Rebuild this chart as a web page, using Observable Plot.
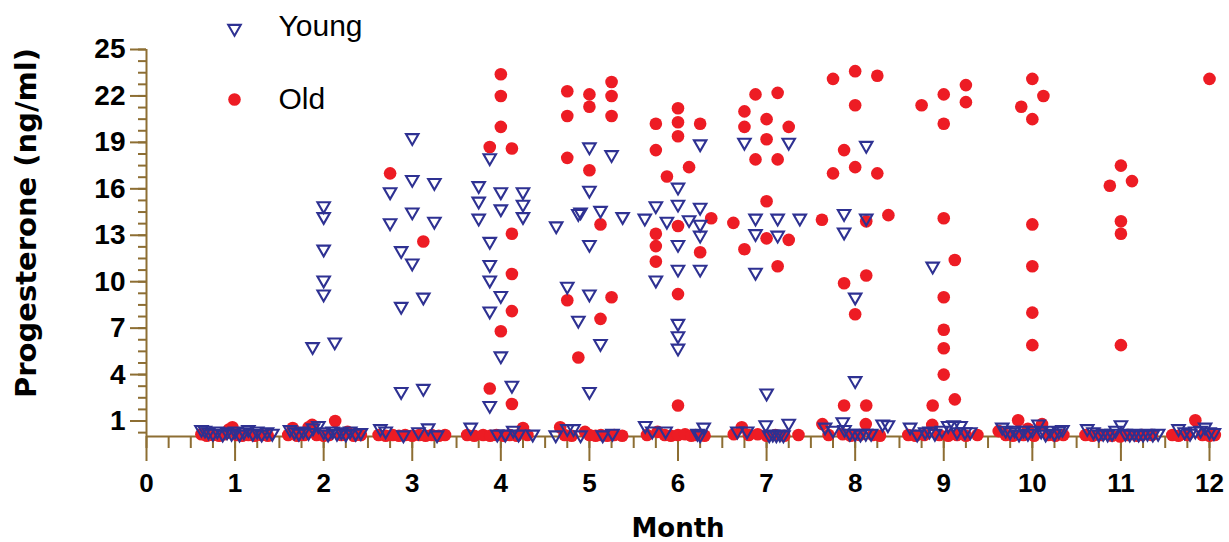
<!DOCTYPE html>
<html>
<head>
<meta charset="utf-8">
<script src="https://cdn.jsdelivr.net/npm/d3@7"></script>
<script src="https://cdn.jsdelivr.net/npm/@observablehq/plot@0.6"></script>
<style>
  html, body { margin: 0; padding: 0; background: #fff; }
</style>
</head>
<body>
<div id="chart"></div>
<script>
// ---- Data: [month, progesterone ng/ml] ----
const youngHigh = [
  [2,14.9],[2,14.2],[2,12.1],[2,10.1],[2,9.2],[1.875,5.8],[2.125,6.1],
  [3,19.3],[3,16.6],[3.25,16.4],[2.75,15.8],[3,14.5],[2.75,13.8],[3.25,13.9],[2.875,12.0],[3,11.2],[3.125,9.0],[2.875,8.4],[2.875,2.9],[3.125,3.1],
  [3.875,18.0],[3.75,16.2],[4,15.8],[4.25,15.8],[3.75,15.2],[4,14.7],[4.25,15.0],[3.75,14.1],[4.25,14.2],[3.875,12.6],[3.875,11.1],[3.875,10.1],[4,9.1],[3.875,8.1],[4,5.2],[4.125,3.3],[3.875,2.0],
  [5,18.7],[5.25,18.2],[5,15.9],[4.875,14.4],[4.9,14.5],[5.125,14.6],[4.625,13.6],[5.375,14.2],[5,12.4],[4.75,9.7],[5,9.2],[4.875,7.5],[5.125,6.0],[5,2.9],
  [5.625,14.1],[5.75,14.9],[5.75,10.1],[5.875,13.9],[6,16.1],[6,15.0],[6,12.4],[6,10.8],[6,7.3],[6,6.5],[6,5.7],[6.125,14.0],[6.25,18.9],[6.25,14.8],[6.25,13.7],[6.25,13.0],[6.25,10.8],
  [6.75,19.0],[7.25,19.0],[6.875,14.1],[7.125,14.1],[7.375,14.1],[6.875,13.1],[7.125,13.0],[6.875,10.6],[7,2.8],
  [8.125,18.8],[7.875,14.4],[8.125,14.1],[7.875,13.2],[8,9.0],[8,3.6],
  [8.875,11.0]
];
const youngLow = [
  [0.62,0.45],[0.66,0.4],[0.7,0.3],[0.75,0.2],[0.8,0.35],[0.86,0.15],[0.91,0.3],[0.96,0.2],[1.0,0.35],[1.05,0.15],[1.1,0.3],[1.15,0.45],[1.2,0.2],[1.25,0.35],[1.3,0.15],[1.36,0.3],[1.42,0.2],
  [1.62,0.45],[1.67,0.3],[1.72,0.2],[1.77,0.35],[1.83,0.25],[1.88,0.55],[1.94,0.7],[2.0,0.3],[2.05,0.15],[2.1,0.35],[2.15,0.2],[2.2,0.3],[2.25,0.15],[2.3,0.35],[2.36,0.2],[2.42,0.25],
  [2.64,0.5],[2.7,0.35],[2.9,0.1],[3.07,0.3],[3.18,0.55],[3.28,0.1],
  [3.66,0.6],[3.96,0.15],[4.05,0.15],[4.14,0.4],[4.2,0.15],[4.36,0.15],
  [4.62,0.1],[4.75,0.5],[4.82,0.5],[4.9,0.1],[5.15,0.1],[5.26,0.2],
  [5.63,0.7],[5.71,0.35],[5.86,0.35],[6.22,0.2],[6.25,0.1],[6.29,0.6],
  [6.67,0.35],[6.78,0.35],[6.99,0.75],[7.03,0.1],[7.07,0.15],[7.11,0.1],[7.15,0.15],[7.19,0.1],[7.25,0.85],
  [7.66,0.6],[7.75,0.4],[7.86,0.95],[7.88,0.45],[7.94,0.2],[8.0,0.2],[8.06,0.15],[8.12,0.2],[8.18,0.2],[8.31,0.8],[8.37,0.75],
  [8.62,0.6],[8.7,0.15],[8.79,0.3],[8.84,0.35],[8.9,0.2],[8.98,0.4],[9.05,0.7],[9.11,0.75],[9.15,0.3],[9.19,0.7],[9.24,0.3],[9.3,0.3],
  [9.66,0.6],[9.7,0.4],[9.75,0.3],[9.8,0.4],[9.85,0.15],[9.9,0.4],[9.95,0.2],[10.0,0.4],[10.07,0.8],[10.1,0.35],[10.15,0.15],[10.2,0.4],[10.25,0.2],[10.3,0.35],[10.34,0.45],
  [10.62,0.5],[10.69,0.3],[10.75,0.15],[10.8,0.2],[10.85,0.15],[10.9,0.2],[10.94,0.4],[11.0,0.75],[11.05,0.2],[11.1,0.15],[11.15,0.2],[11.2,0.15],[11.25,0.15],[11.3,0.2],[11.36,0.15],[11.42,0.2],
  [11.65,0.5],[11.72,0.3],[11.78,0.2],[11.84,0.35],[11.9,0.4],[11.95,0.6],[12.0,0.3],[12.05,0.25]
];
const oldHigh = [
  [2.75,17.0],[3.125,12.6],
  [4,23.4],[4,22.0],[4,20.0],[3.875,18.7],[4.125,18.6],[4.125,13.1],[4.125,10.5],[4.125,8.1],[4,6.8],[3.875,3.1],[4.125,2.1],
  [4.75,22.3],[5,22.1],[5.25,22.9],[5.25,22.0],[5,21.3],[4.75,20.7],[5.25,20.7],[4.75,18.0],[5,17.2],[5.125,13.7],[4.75,8.8],[5.25,9.0],[5.125,7.6],[4.875,5.1],
  [5.75,20.2],[5.75,18.5],[5.75,13.1],[5.75,12.3],[5.75,11.3],[5.875,16.8],[6,21.2],[6,20.3],[6,19.4],[6,13.6],[6,9.2],[6,2.0],[6.125,17.4],[6.25,20.2],[6.25,11.9],[6.375,14.1],
  [6.625,13.8],[6.75,21.0],[6.875,22.1],[7.125,22.2],[6.75,20.0],[7,20.5],[7.25,20.0],[7,19.2],[6.875,17.9],[7.125,17.9],[7,15.2],[7,12.8],[7.25,12.7],[6.75,12.1],[7.125,11.0],
  [7.625,14.0],[7.75,23.1],[8,23.6],[8.25,23.3],[8,21.4],[7.875,18.5],[8,17.4],[7.75,17.0],[8.25,17.0],[8.125,13.9],[8.375,14.3],[8.125,10.4],[7.875,9.9],[8,7.9],[7.875,2.0],[8.125,2.0],
  [8.75,21.4],[9,22.1],[9.25,22.7],[9.25,21.6],[9,20.2],[9,14.1],[9.125,11.4],[9,9.0],[9,6.9],[9,5.7],[9,4.0],[8.875,2.0],[9.125,2.4],
  [10,23.1],[10.125,22.0],[9.875,21.3],[10,20.5],[10,13.7],[10,11.0],[10,8.0],[10,5.9],
  [11,17.5],[10.875,16.2],[11.125,16.5],[11,13.9],[11,13.1],[11,5.9],
  [12,23.1]
];
const oldLow = [
  [0.62,0.15],[0.68,0.05],[0.75,0.1],[0.82,0.05],[0.88,0.15],[0.93,0.45],[0.97,0.6],[1.02,0.1],[1.08,0.05],[1.15,0.1],[1.22,0.05],[1.3,0.1],[1.37,0.05],
  [1.6,0.1],[1.65,0.55],[1.7,0.05],[1.78,0.1],[1.83,0.6],[1.87,0.75],[1.92,0.1],[2.0,0.05],[2.06,0.1],[2.13,1.0],[2.2,0.1],[2.27,0.3],[2.34,0.05],[2.42,0.1],
  [2.62,0.1],[2.7,0.05],[2.78,0.1],[2.85,0.05],[2.92,0.1],[3.0,0.05],[3.08,0.1],[3.15,0.05],[3.22,0.1],[3.3,0.05],[3.37,0.1],
  [3.62,0.1],[3.7,0.05],[3.8,0.1],[3.88,0.05],[3.95,0.1],[4.03,0.05],[4.1,0.1],[4.18,0.05],[4.25,0.55],[4.3,0.1],
  [4.67,0.6],[4.72,0.1],[4.8,0.05],[4.95,0.3],[5.0,0.1],[5.07,0.05],[5.13,0.1],[5.2,0.05],[5.28,0.1],[5.37,0.05],
  [5.65,0.1],[5.77,0.3],[5.85,0.1],[5.92,0.05],[6.0,0.1],[6.08,0.15],[6.15,0.05],[6.2,0.1],[6.3,0.05],
  [6.63,0.15],[6.72,0.6],[6.8,0.1],[6.9,0.15],[7.0,0.05],[7.1,0.1],[7.2,0.05],[7.36,0.1],
  [7.63,0.8],[7.7,0.1],[7.86,0.15],[7.95,0.05],[8.05,0.1],[8.12,0.8],[8.2,0.1],[8.28,0.05],
  [8.6,0.1],[8.68,0.05],[8.78,0.1],[8.87,0.75],[8.95,0.1],[9.05,0.05],[9.15,0.1],[9.25,0.05],[9.38,0.1],
  [9.62,0.35],[9.7,0.1],[9.78,0.05],[9.84,1.05],[9.9,0.1],[9.95,0.5],[10.02,0.05],[10.11,0.8],[10.18,0.1],[10.26,0.05],[10.35,0.1],
  [10.6,0.1],[10.68,0.05],[10.78,0.1],[10.9,0.05],[10.99,0.0],[11.08,0.1],[11.18,0.05],[11.24,0.1],[11.35,0.1],
  [11.58,0.1],[11.65,0.05],[11.75,0.1],[11.84,1.05],[11.92,0.1],[12.0,0.05],[12.06,0.1]
];

// ---- Axis ticks & labels ----
const xTicks = [0,1,2,3,4,5,6,7,8,9,10,11,12];
const yTicks = [1,4,7,10,13,16,19,22,25];
const xMinorTicks = d3.range(0, 12.001, 0.25);
const yMinorTicks = d3.range(0.25, 25.001, 0.75);
const seriesNames = ["Young", "Old"];
const xTitle = "Month";
const yTitle = "Progesterone (ng/ml)";

// ---- Style ----
const RED = "#ED1C24";
const BLUE = "#2E3192";
const AXIS = "#8D6E33";
const SANS = "Liberation Sans, Arial, sans-serif";
const WIDE = "DejaVu Sans, Liberation Sans, sans-serif";

const triDown = {
  draw(context, size) {
    const r = Math.sqrt(size / Math.PI);
    const R = r * 1.2;
    const h = R * Math.sqrt(3) / 2;
    context.moveTo(0, R);
    context.lineTo(h, -R / 2);
    context.lineTo(-h, -R / 2);
    context.closePath();
  }
};

const young = youngHigh.concat(youngLow);
const old = oldHigh.concat(oldLow);

const chart = Plot.plot({
  width: 1229,
  height: 542,
  marginLeft: 146,
  marginRight: 20,
  marginTop: 49,
  marginBottom: 106,
  style: { fontFamily: SANS, background: "#fff", color: "#000", overflow: "visible" },
  x: { domain: [0, 12] },
  y: { domain: [0, 25] },
  marks: [
    Plot.axisX(xMinorTicks, { tickSize: 12, tickFormat: () => "", stroke: AXIS, strokeWidth: 2, label: null }),
    Plot.axisX(xTicks, { tickSize: 25, tickPadding: 12, stroke: AXIS, strokeWidth: 2, fill: "#000",
      fontSize: 26, fontWeight: "bold", fontFamily: SANS, label: null, tickFormat: d => String(d) }),
    Plot.axisY(yMinorTicks, { tickSize: 8, tickFormat: () => "", stroke: AXIS, strokeWidth: 2, label: null }),
    Plot.axisY(yTicks, { tickSize: 16, tickPadding: 5, stroke: AXIS, strokeWidth: 2, fill: "#000",
      fontSize: 28, fontWeight: "bold", fontFamily: SANS, label: null, tickFormat: d => String(d) }),
    Plot.ruleY([0], { stroke: AXIS, strokeWidth: 2 }),
    Plot.ruleX([0], { y1: 0, y2: 25, stroke: AXIS, strokeWidth: 2 }),
    Plot.dot(old, { x: d => d[0], y: d => d[1], r: 6.3, fill: RED, stroke: "none" }),
    Plot.dot(young, { x: d => d[0], y: d => d[1], r: 6, symbol: triDown, fill: "none", stroke: BLUE, strokeWidth: 2.1 }),
    // legend
    Plot.dot([seriesNames[0]], { frameAnchor: "top-left", dx: 88, dy: -21, r: 6, symbol: triDown, fill: "none", stroke: BLUE, strokeWidth: 2.1 }),
    Plot.dot([seriesNames[1]], { frameAnchor: "top-left", dx: 88, dy: 50, r: 6.3, fill: RED }),
    Plot.text([seriesNames[0]], { frameAnchor: "top-left", text: d => d, dx: 132, dy: -23, textAnchor: "start", lineAnchor: "middle", fontSize: 30, fontFamily: SANS, fill: "#000" }),
    Plot.text([seriesNames[1]], { frameAnchor: "top-left", text: d => d, dx: 132, dy: 50, textAnchor: "start", lineAnchor: "middle", fontSize: 30, fontFamily: SANS, fill: "#000" }),
    // axis titles
    Plot.text([xTitle], { frameAnchor: "bottom", text: d => d, dy: 92, textAnchor: "middle", lineAnchor: "middle", fontSize: 26, fontWeight: "bold", fontFamily: WIDE, fill: "#000" }),
    Plot.text([yTitle], { frameAnchor: "left", text: d => d, dx: -119.5, dy: -20, rotate: -90, textAnchor: "middle", lineAnchor: "middle", fontSize: 29, fontWeight: "bold", fontFamily: WIDE, fill: "#000" })
  ]
});
document.getElementById("chart").appendChild(chart);
</script>
</body>
</html>
